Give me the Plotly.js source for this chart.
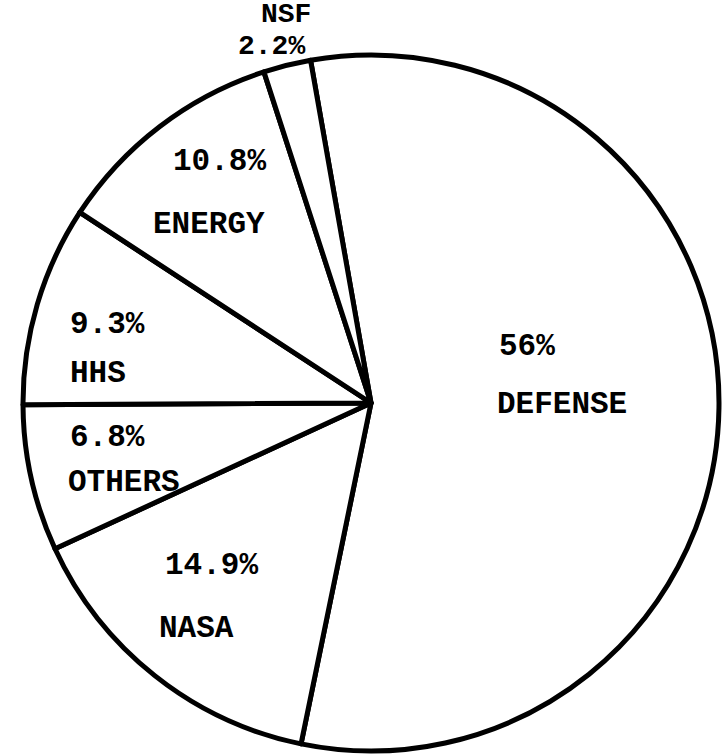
<!DOCTYPE html>
<html>
<head>
<meta charset="utf-8">
<script src="https://cdn.plot.ly/plotly-3.0.1.min.js"></script>
<style>
  html, body { margin: 0; padding: 0; background: #ffffff; }
  #chart { width: 726px; height: 754px; }
</style>
</head>
<body>
<div id="chart"></div>
<script>
// ---- data ----
var agencies = ['DEFENSE', 'NASA', 'OTHERS', 'HHS', 'ENERGY', 'NSF'];
var shares = [56, 14.9, 6.8, 9.3, 10.8, 2.2];

// ---- label placement (pixels in the 726x754 page): [pct x, pct y, name x, name y, font size] ----
var labelPos = {
  'DEFENSE': [527, 346, 562, 404, 31],
  'NASA':    [211, 565, 196, 628, 31],
  'OTHERS':  [107, 437, 124, 482, 31],
  'HHS':     [107, 324, 98, 373, 31],
  'ENERGY':  [219, 161, 209, 224, 31],
  'NSF':     [271, 47, 286, 15, 28]
};

var W = 726, H = 754;
function mkFont(sz) {
  return { family: 'Liberation Mono, Courier New, monospace', size: sz, color: '#000000' };
}

var annotations = [];
agencies.forEach(function (name, i) {
  var p = labelPos[name];
  annotations.push({
    text: '<b>' + shares[i] + '%</b>',
    xref: 'paper', yref: 'paper',
    x: p[0] / W, y: 1 - p[1] / H,
    xanchor: 'center', yanchor: 'middle',
    showarrow: false, font: mkFont(p[4])
  });
  annotations.push({
    text: '<b>' + name + '</b>',
    xref: 'paper', yref: 'paper',
    x: p[2] / W, y: 1 - p[3] / H,
    xanchor: 'center', yanchor: 'middle',
    showarrow: false, font: mkFont(p[4])
  });
});

var cx = 371, cy = 403, r = 348;
var trace = {
  type: 'pie',
  labels: agencies,
  values: shares,
  sort: false,
  direction: 'clockwise',
  rotation: -10,
  textinfo: 'none',
  hoverinfo: 'none',
  showlegend: false,
  marker: {
    colors: agencies.map(function () { return '#ffffff'; }),
    line: { color: '#000000', width: 5 }
  },
  domain: {
    x: [(cx - r) / W, (cx + r) / W],
    y: [1 - (cy + r) / H, 1 - (cy - r) / H]
  }
};

var layout = {
  width: W,
  height: H,
  margin: { l: 0, r: 0, t: 0, b: 0, pad: 0 },
  paper_bgcolor: '#ffffff',
  plot_bgcolor: '#ffffff',
  showlegend: false,
  annotations: annotations
};

Plotly.newPlot('chart', [trace], layout, { displayModeBar: false, staticPlot: true });
</script>
</body>
</html>
